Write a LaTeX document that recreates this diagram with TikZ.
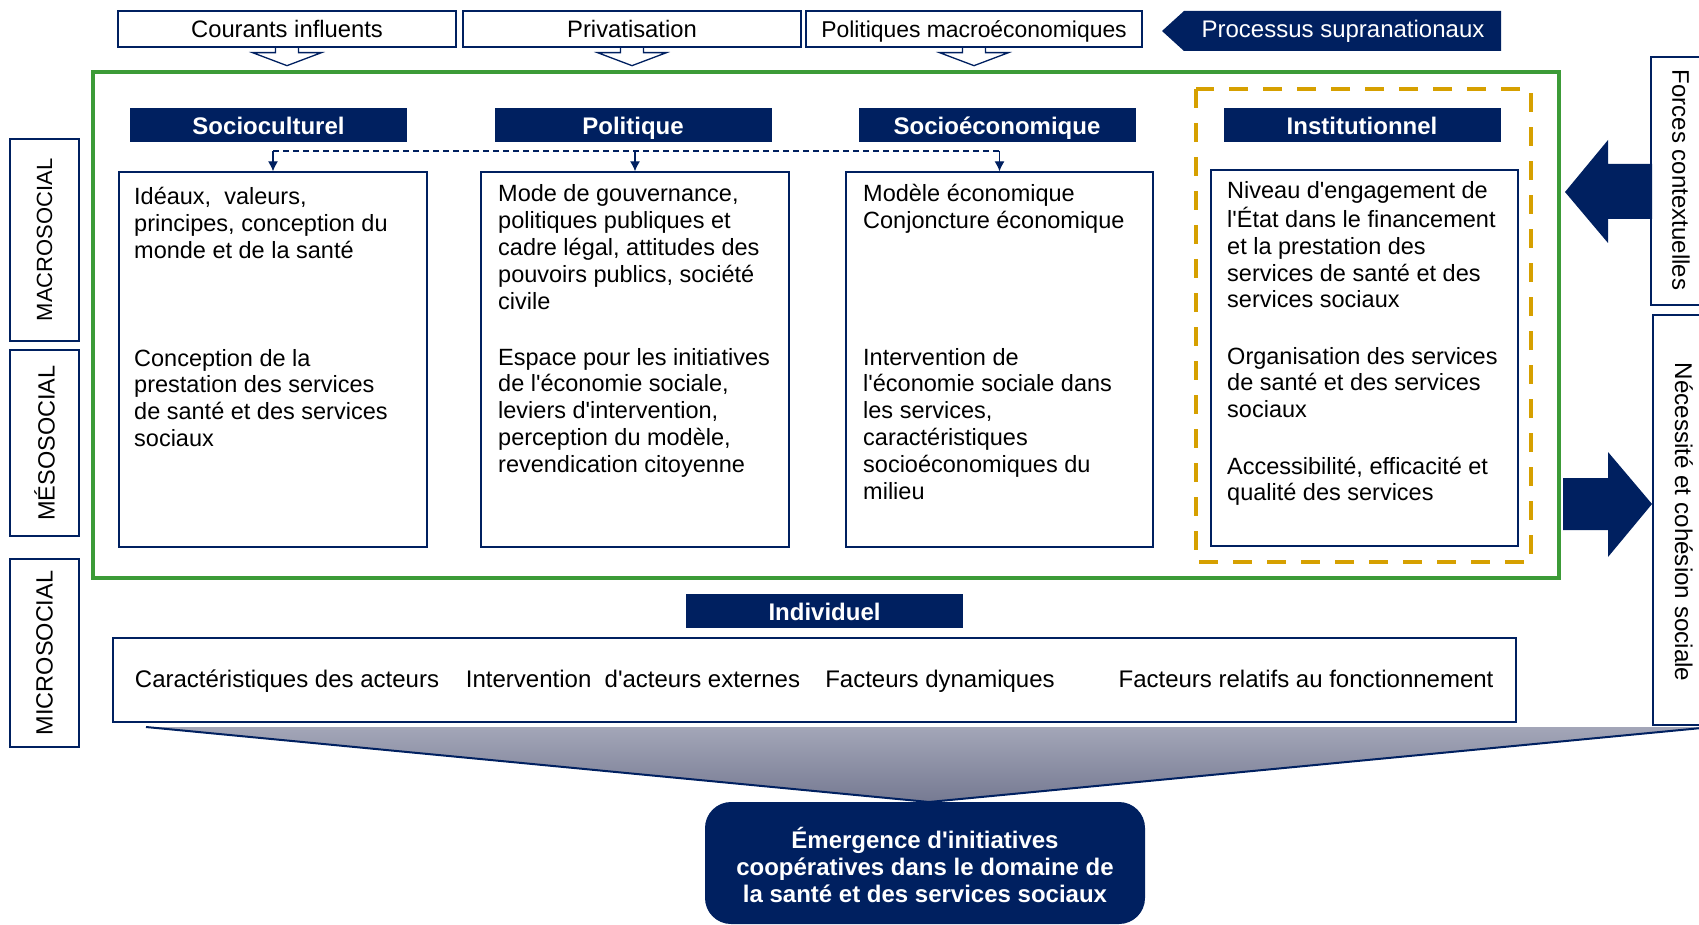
\documentclass[tikz,border=0pt]{standalone}
\usepackage{fontspec}
\setmainfont{Liberation Sans}[Ligatures=TeXOff]
\usetikzlibrary{arrows.meta,calc}
\definecolor{navy}{RGB}{0,32,96}
\definecolor{grn}{RGB}{60,155,55}
\definecolor{gold}{RGB}{214,160,0}
\definecolor{gtop}{RGB}{163,166,184}
\definecolor{gbot}{RGB}{118,122,146}
\newcommand{\myfs}[1]{\fontsize{#1}{26.8}\selectfont}
\newcommand{\mylines}[1]{\begin{tabular}[t]{@{}l@{}}#1\end{tabular}}
\begin{document}
\begin{tikzpicture}[x=1pt,y=-1pt,
  frame/.style={draw=navy, line width=1.3pt, inner sep=0pt},
  topbox/.style={frame, fill=white, font=\myfs{23.8}, minimum width=338pt, minimum height=36pt, text height=19.5pt, text depth=2.5pt},
  hdr/.style={fill=navy, text=white, font=\myfs{24}\bfseries, inner sep=0pt, minimum width=277pt, minimum height=34pt, text height=20.5pt, text depth=2pt},
  body/.style={anchor=base west, inner sep=0pt, font=\myfs{23.5}},
  lbl/.style={frame, font=\myfs{23.5}, rotate=90, minimum height=69pt},
  chev/.style={draw=navy, line width=1.3pt},
  dashline/.style={navy, line width=1.3pt, dash pattern=on 6pt off 4pt},
  arr/.style={navy, line width=1.3pt, -{Latex[length=10pt,width=10pt]}},
  rowtxt/.style={anchor=base, inner sep=0pt, font=\myfs{24}}
]
\useasboundingbox (0,0) rectangle (1699,925);

% funnel
\begin{scope}
\clip (0,0) rectangle (1699,925);
\shade[top color=gtop, bottom color=gbot] (146,727) -- (1712,727) -- (929,802) -- cycle;
\draw[navy, line width=2pt] (146,727) -- (929,802) -- (1712,727);
\draw[navy, line width=1.3pt] (1699,57) -- (1651,57) -- (1651,305) -- (1699,305);
\draw[navy, line width=1.3pt] (1699,315) -- (1653,315) -- (1653,725) -- (1699,725);
\end{scope}

% top boxes
\node[topbox] (t1) at (287,29) {Courants influents};
\node[topbox] (t2) at (632,29) {Privatisation};
\node[topbox, minimum width=336pt, font=\myfs{22.9}] (t3) at (974,29) {Politiques macroéconomiques};
\foreach \t in {t1,t2,t3}{
  \draw[chev] ([xshift=-11.5pt]\t.south) -- ++(0,5) -- ++(-23,0) -- ++(34.5,13) -- ++(34.5,-13) -- ++(-23,0) -- ++(0,-5);
}
\fill[navy] (1184,11) -- (1501,11) -- (1501,51) -- (1184,51) -- (1162,31) -- cycle;
\node[text=white, font=\myfs{24}, inner sep=0pt, text height=18pt, text depth=4pt] (proc) at (1343,31) {Processus supranationaux};

% green frame and gold dashed frame
\draw[grn, line width=4pt] (93,72) rectangle (1559,578);
\draw[gold, line width=4pt, dash pattern=on 19pt off 15pt] (1196,89) rectangle (1531,562);

% headers
\node[hdr] (h1) at (268.5,125) {Socioculturel};
\node[hdr] (h2) at (633,125) {Politique};
\node[hdr] (h3) at (997,125) {Socioéconomique};
\node[hdr] (h4) at (1362,125) {Institutionnel};

% content boxes
\node[frame, minimum width=308pt, minimum height=375pt] (b1) at (273,359.5) {};
\node[frame, minimum width=308pt, minimum height=375pt] (b2) at (635,359.5) {};
\node[frame, minimum width=307pt, minimum height=375pt] (b3) at (999.5,359.5) {};
\node[frame, fill=white, minimum width=307pt, minimum height=376pt] (b4) at (1364.5,358) {};

% dashed connectors
\coordinate (d1) at (273,151);
\coordinate (d3) at (999.5,151);
\draw[dashline] (d1) -- (d3);
\draw[arr] (d1) -- (b1.north);
\draw[arr] (b2.north |- d1) -- (b2.north);
\draw[arr] (d3) -- (b3.north);

% body texts
\node[body] (x1a) at (134,205) {\mylines{Idéaux,~ valeurs,\\ principes, conception du\\ monde et de la santé}};
\node[body] (x1b) at (134,366) {\mylines{Conception de la\\ prestation des services\\ de santé et des services\\ sociaux}};
\node[body] (x2a) at (498,202) {\mylines{Mode de gouvernance,\\ politiques publiques et\\ cadre légal, attitudes des\\ pouvoirs publics, société\\ civile}};
\node[body] (x2b) at (498,365) {\mylines{Espace pour les initiatives\\ de l'économie sociale,\\ leviers d'intervention,\\ perception du modèle,\\ revendication citoyenne}};
\node[body] (x3a) at (863,202) {\mylines{Modèle économique\\ Conjoncture économique}};
\node[body] (x3b) at (863,365) {\mylines{Intervention de\\ l'économie sociale dans\\ les services,\\ caractéristiques\\ socioéconomiques du\\ milieu}};
\node[body] (x4a) at (1227,199) {\mylines{Niveau d'engagement de\\ l'État dans le financement\\ et la prestation des\\ services de santé et des\\ services sociaux}};
\node[body] (x4b) at (1227,364) {\mylines{Organisation des services\\ de santé et des services\\ sociaux}};
\node[body] (x4c) at (1227,474) {\mylines{Accessibilité, efficacité et\\ qualité des services}};

% left labels
\node[lbl, minimum width=202pt, font=\myfs{22}] (macro) at (44.5,240) {MACROSOCIAL};
\node[lbl, minimum width=186pt] (meso) at (44.5,443) {MÉSOSOCIAL};
\node[lbl, minimum width=188pt] (micro) at (44.5,653) {MICROSOCIAL};

% right labels
\node[font=\myfs{24}, rotate=-90, inner sep=0pt] (forces) at (1681,180) {Forces contextuelles};
\node[font=\myfs{24.2}, rotate=-90, inner sep=0pt] (necess) at (1684,522) {Nécessité et cohésion sociale};

% big arrows
\fill[navy] (1652,164) -- (1608,164) -- (1608,140) -- (1565,192) -- (1608,243) -- (1608,219) -- (1652,219) -- cycle;
\fill[navy] (1563,478) -- (1608,478) -- (1608,452) -- (1652,504) -- (1608,557) -- (1608,530) -- (1563,530) -- cycle;

% individual
\node[hdr] (hi) at (824.5,611) {Individuel};
\node[frame, fill=white, minimum width=1403pt, minimum height=84pt] (ib) at (814.5,680) {};
\node[rowtxt] (i1) at (287,687) {Caractéristiques des acteurs};
\node[rowtxt] (i2) at (633,687) {Intervention~ d'acteurs externes};
\node[rowtxt] (i3) at (940,687) {Facteurs dynamiques};
\node[rowtxt] (i4) at (1306,687) {Facteurs relatifs au fonctionnement};

% emergence
\node[fill=navy, rounded corners=26pt, minimum width=440pt, minimum height=122pt, inner sep=0pt] (em) at (925,863) {};
\node[text=white, font=\myfs{24}\bfseries, align=center, inner sep=0pt] (emt) at (925,865) {Émergence d'initiatives\\ coopératives dans le domaine de\\ la santé et des services sociaux};
\end{tikzpicture}
\end{document}
